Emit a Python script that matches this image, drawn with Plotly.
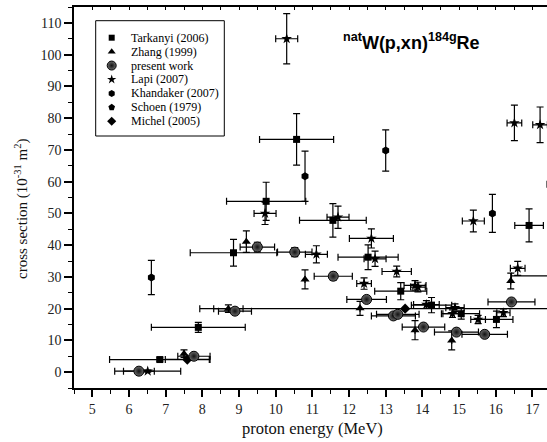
import plotly.graph_objects as go

# ---------------- data ----------------
tarkanyi_x = [6.84, 7.89, 8.85, 9.74, 10.57, 11.56, 12.52, 13.41, 14.25, 15.06, 16.02, 16.91, 17.90]
tarkanyi_y = [3.96, 14.1, 37.6, 53.8, 73.3, 47.8, 36.2, 25.5, 21.1, 18.4, 16.6, 46.2, 30.3]
tarkanyi_xerr = [1.37, 1.28, 1.18, 1.08, 1.01, 0.91, 0.82, 0.71, 0.55, 0.50, 0.45, 0.39, 1.47]
tarkanyi_yerr = [0.5, 1.6, 4.2, 6.0, 8.1, 5.3, 3.9, 2.7, 2.4, 1.7, 2.6, 5.2, 2.5]

zhang_x = [7.50, 8.71, 9.20, 10.80, 12.30, 13.80, 14.80, 16.41]
zhang_y = [5.8, 20.0, 41.1, 29.2, 20.1, 13.2, 10.0, 28.7]
zhang_xerr = [None, 0.40, None, None, None, None, None, None]
zhang_yerr = [1.2, 1.2, 3.4, 3.0, 2.2, 3.0, 3.0, 2.5]

present_x = [6.27, 7.77, 8.89, 9.50, 10.52, 11.57, 12.48, 13.21, 13.33, 14.03, 14.93, 15.70, 16.43]
present_y = [0.3, 5.0, 19.2, 39.4, 37.8, 30.2, 22.9, 17.7, 18.2, 14.2, 12.6, 11.9, 22.1]
present_xerr = [0.42, 0.44, 0.45, 0.47, 0.47, 0.52, 0.54, 0.60, 0.58, 0.58, 0.60, 0.62, 0.64]
present_yerr = [0.3, 0.5, 1.0, 1.5, 1.4, 1.2, 1.0, 0.8, 0.8, 0.8, 0.7, 0.7, 1.0]

lapi_x = [6.51, 9.71, 10.30, 11.70, 11.11, 12.61, 12.71, 13.30, 12.41, 13.80, 13.88,
          14.11, 14.82, 14.89, 15.52, 16.21, 16.60, 15.39, 16.51, 17.21, 17.70]
lapi_y = [0.3, 50.0, 105.0, 48.8, 37.1, 42.1, 35.7, 31.7, 27.9, 27.3, 26.8,
          21.3, 18.4, 20.3, 16.6, 18.7, 32.7, 47.6, 78.5, 77.9, 59.2]
lapi_xerr = [0.90, 0.30, 0.30, 0.30, 0.30, 0.60, 0.30, 0.40, 0.20, 0.30, 0.20,
             0.35, 0.30, 0.25, 0.20, 0.18, 0.20, 0.30, 0.20, 0.20, 0.30]
lapi_yerr = [0.3, 3.5, 7.9, 3.5, 2.7, 3.0, 2.4, 1.7, 1.8, 1.5, 1.5,
             1.2, 1.2, 1.2, 1.3, 1.2, 2.2, 3.4, 5.6, 5.6, 1.0]

khandaker_x = [6.61, 10.80, 13.00, 15.91]
khandaker_y = [29.8, 61.7, 69.8, 50.0]
khandaker_yerr = [5.4, 7.9, 6.5, 6.0]

schoen_x = []
schoen_y = []

michel_x = [7.59, 13.53]
michel_y = [4.0, 20.0]
michel_xerr = [0.60, 5.60]

legend_labels = ["Tarkanyi (2006)", "Zhang (1999)", "present work", "Lapi (2007)",
                 "Khandaker (2007)", "Schoen (1979)", "Michel (2005)"]

x_ticks = list(range(5, 18))
y_ticks = list(range(0, 111, 10))

# ---------------- layout geometry (pixels) ----------------
W, H = 547, 442
L, R, T, B = 74, 547, 7, 388


def px(p):
    return (p - L) / (R - L)


def py(p):
    return (B - p) / (B - T)


SERIF = "Liberation Serif, Times New Roman, serif"
SANS = "Liberation Sans, Arial, sans-serif"

styles = {
    "Tarkanyi (2006)": dict(symbol="square", size=7, color="black"),
    "Zhang (1999)": dict(symbol="triangle-up", size=8, color="black"),
    "present work": dict(symbol="circle", size=10, color="#6a6a6a",
                         line=dict(color="#000", width=1),
                         gradient=dict(type="radial", color="#111")),
    "Lapi (2007)": dict(symbol="star", size=8, color="black"),
    "Khandaker (2007)": dict(symbol="hexagon", size=8, color="black"),
    "Schoen (1979)": dict(symbol="pentagon", size=8, color="black"),
    "Michel (2005)": dict(symbol="diamond", size=8, color="black"),
}


def err(arr):
    if arr is None:
        return dict(visible=False)
    return dict(type="data", array=arr, visible=True, color="black",
                thickness=1.2, width=3.5)


series = [
    ("Tarkanyi (2006)", tarkanyi_x, tarkanyi_y, tarkanyi_xerr, tarkanyi_yerr),
    ("Zhang (1999)", zhang_x, zhang_y, zhang_xerr, zhang_yerr),
    ("Khandaker (2007)", khandaker_x, khandaker_y, None, khandaker_yerr),
    ("Schoen (1979)", schoen_x, schoen_y, None, None),
    ("Michel (2005)", michel_x, michel_y, michel_xerr, None),
    ("Lapi (2007)", lapi_x, lapi_y, lapi_xerr, lapi_yerr),
    ("present work", present_x, present_y, present_xerr, present_yerr),
]

fig = go.Figure()
for name, xs, ys, xe, ye in series:
    fig.add_trace(go.Scatter(
        x=xs, y=ys, mode="markers", name=name, showlegend=False,
        marker=styles[name], error_x=err(xe), error_y=err(ye),
        xaxis="x", yaxis="y"))

# invisible trace so the top (mirror) axis is drawn
fig.add_trace(go.Scatter(x=[None], y=[None], xaxis="x2", yaxis="y",
                         showlegend=False, hoverinfo="skip"))

# hand-built legend on a pixel-coordinate overlay axis
leg_sym_x = 111.7
leg_text_x = 129.3
leg_y0, leg_dy = 37.7, 13.93
for i, lab in enumerate(legend_labels):
    st = dict(styles[lab])
    st["size"] = max(st["size"] - 1, 6)
    fig.add_trace(go.Scatter(x=[leg_sym_x], y=[leg_y0 + i * leg_dy], mode="markers",
                             marker=st, xaxis="x3", yaxis="y3",
                             showlegend=False, hoverinfo="skip", cliponaxis=False))
    fig.add_annotation(x=px(leg_text_x), y=py(leg_y0 + i * leg_dy), xref="paper",
                       yref="paper", text=lab, showarrow=False, xanchor="left",
                       yanchor="middle", font=dict(family=SERIF, size=12, color="black"))

fig.add_shape(type="rect", xref="paper", yref="paper",
              x0=px(95.7), x1=px(224.3), y0=py(20.7), y1=py(136),
              line=dict(color="black", width=1), fillcolor="rgba(0,0,0,0)")

# reaction label
fig.add_annotation(x=px(411), y=py(42), xref="paper", yref="paper",
                   text="<sup>nat</sup>W(p,xn)<sup>184g</sup>Re", showarrow=False,
                   xanchor="center", yanchor="middle",
                   font=dict(family=SANS, size=18, color="black", weight="bold"))

# axis titles
fig.add_annotation(x=px(312), y=py(428), xref="paper", yref="paper",
                   text="proton energy (MeV)", showarrow=False,
                   xanchor="center", yanchor="middle",
                   font=dict(family=SERIF, size=16.5, color="#111"))
fig.add_annotation(x=px(21), y=py(209), xref="paper", yref="paper",
                   text="cross section (10<sup>-31</sup> m<sup>2</sup>)", showarrow=False,
                   textangle=-90, xanchor="center", yanchor="middle",
                   font=dict(family=SERIF, size=15, color="#111"))

xr = [4.5, 4.5 + (R - L) / 36.67]
yr = [-5, 115]

fig.update_layout(
    width=W, height=H, autosize=False,
    margin=dict(l=L, r=W - R, t=T, b=H - B, pad=0),
    paper_bgcolor="white", plot_bgcolor="rgba(0,0,0,0)",
    showlegend=False,
    xaxis=dict(range=xr, tickvals=x_ticks, ticks="outside", ticklen=7, tickwidth=1.5,
               tickcolor="black", showline=True, linewidth=1.6, linecolor="black",
               showgrid=False, zeroline=False,
               minor=dict(ticks="outside", ticklen=4, tickwidth=1.3, dtick=0.5,
                          tick0=4.5, tickcolor="black", showgrid=False),
               tickfont=dict(family=SERIF, size=14, color="#222")),
    xaxis2=dict(range=xr, overlaying="x", side="top", anchor="y", ticks="inside",
                ticklen=3, tickwidth=1, tickcolor="black", dtick=0.5, tick0=4.5,
                showticklabels=False, showline=True, linewidth=1.6, linecolor="black",
                showgrid=False, zeroline=False),
    yaxis=dict(range=yr, tickvals=y_ticks, ticks="outside", ticklen=8, tickwidth=1.5,
               tickcolor="black", showline=True, linewidth=1.6, linecolor="black",
               showgrid=False, zeroline=False,
               minor=dict(ticks="outside", ticklen=4, tickwidth=1.3, dtick=5,
                          tick0=-5, tickcolor="black", showgrid=False),
               tickfont=dict(family=SERIF, size=14, color="#222")),
    xaxis3=dict(range=[L, R], overlaying="x", visible=False, anchor="y3"),
    yaxis3=dict(range=[B, T], overlaying="y", visible=False, anchor="x3"),
)

fig.write_html("out.html")
